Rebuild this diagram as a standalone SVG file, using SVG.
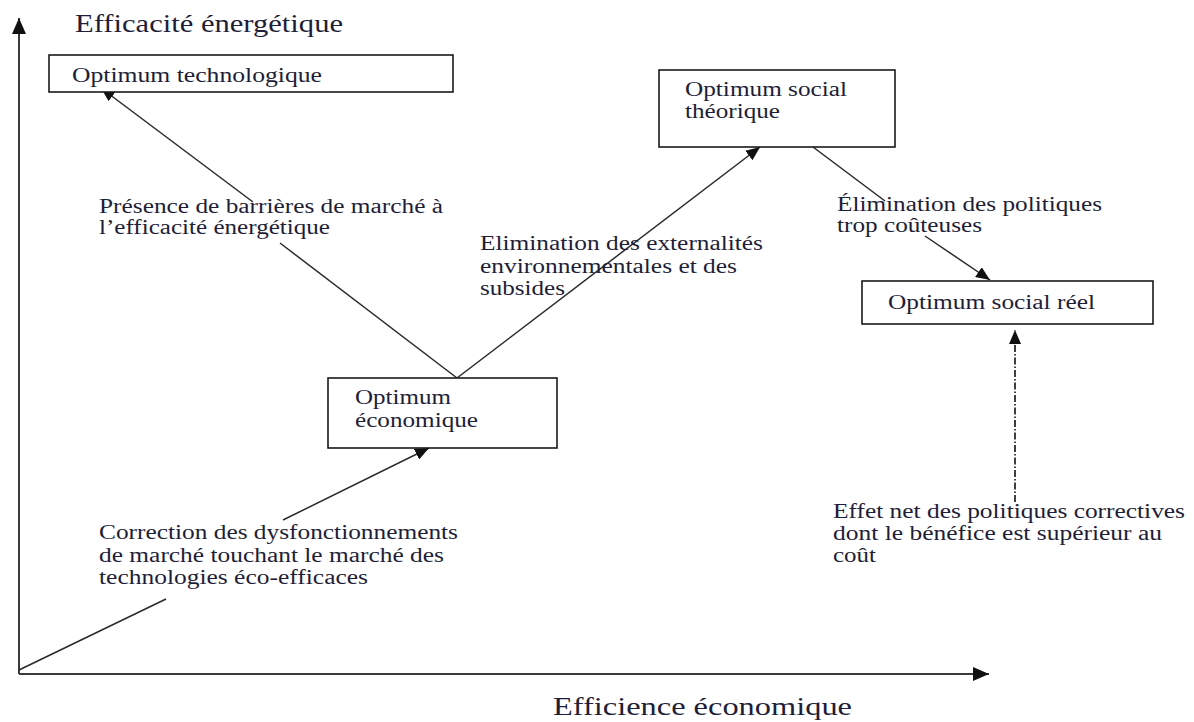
<svg xmlns="http://www.w3.org/2000/svg" width="1194" height="722" viewBox="0 0 1194 722">
  <style>
    .box { fill: #ffffff; stroke: #1a1a1a; stroke-width: 1.6; }
    .lbl { font-family: "Liberation Serif", "Times New Roman", serif; font-size: 20px; fill: #1e1e38; }
    .axt { font-family: "Liberation Serif", "Times New Roman", serif; font-size: 25px; fill: #1e1e38; }
    .link { stroke: #2a2a2a; stroke-width: 1.5; fill: none; }
    .axis { stroke: #3a3a3a; stroke-width: 2; fill: none; }
    .dashdot { stroke: #2a2a2a; stroke-width: 1.8; fill: none; stroke-dasharray: 7 2 1.5 2; }
  </style>
  <defs>
    <marker id="arrow" viewBox="0 0 14 12" refX="14" refY="6" markerWidth="14" markerHeight="12" markerUnits="userSpaceOnUse" orient="auto">
      <path d="M0,0 L14,6 L0,12 z" fill="#111111"/>
    </marker>
    <marker id="axisArrow" viewBox="0 0 16 14" refX="16" refY="7" markerWidth="16" markerHeight="14" markerUnits="userSpaceOnUse" orient="auto">
      <path d="M0,0 L16,7 L0,14 z" fill="#111111"/>
    </marker>
  </defs>

  <!-- axes -->
  <g id="axes">
    <line class="axis" x1="19" y1="674" x2="19" y2="18" marker-end="url(#axisArrow)"/>
    <line class="axis" x1="19" y1="674" x2="989" y2="674" marker-end="url(#axisArrow)"/>
    <text class="axt" x="75" y="32" textLength="268" lengthAdjust="spacingAndGlyphs">Efficacité énergétique</text>
    <text class="axt" x="553" y="715" textLength="299" lengthAdjust="spacingAndGlyphs">Efficience économique</text>
  </g>

  <!-- connectors -->
  <g id="connectors">
    <!-- origin to optimum économique -->
    <line class="link" x1="19" y1="670" x2="166" y2="599"/>
    <line class="link" x1="283" y1="520" x2="429" y2="448" marker-end="url(#arrow)"/>
    <!-- optimum économique to optimum technologique -->
    <line class="link" x1="457" y1="378" x2="280" y2="243"/>
    <line class="link" x1="253" y1="202" x2="101" y2="88" marker-end="url(#arrow)"/>
    <!-- optimum économique to optimum social théorique -->
    <line class="link" x1="457" y1="378" x2="760" y2="147" marker-end="url(#arrow)"/>
    <!-- optimum social théorique to optimum social réel -->
    <line class="link" x1="813" y1="147" x2="885" y2="201"/>
    <line class="link" x1="925" y1="236" x2="990" y2="280" marker-end="url(#arrow)"/>
    <!-- net effect of corrective policies -->
    <line class="dashdot" x1="1015" y1="502" x2="1015" y2="330" marker-end="url(#arrow)"/>
  </g>

  <!-- nodes -->
  <g id="opt-techno">
    <rect class="box" x="49" y="55" width="404" height="37"/>
    <text class="lbl" x="72" y="82" textLength="250" lengthAdjust="spacingAndGlyphs">Optimum technologique</text>
  </g>
  <g id="opt-social-theorique">
    <rect class="box" x="659" y="70" width="236" height="77"/>
    <text class="lbl" x="685" y="96" textLength="162" lengthAdjust="spacingAndGlyphs">Optimum social</text>
    <text class="lbl" x="685" y="118" textLength="95" lengthAdjust="spacingAndGlyphs">théorique</text>
  </g>
  <g id="opt-economique">
    <rect class="box" x="328" y="378" width="229" height="70"/>
    <text class="lbl" x="355" y="404" textLength="96" lengthAdjust="spacingAndGlyphs">Optimum</text>
    <text class="lbl" x="355" y="427" textLength="123" lengthAdjust="spacingAndGlyphs">économique</text>
  </g>
  <g id="opt-social-reel">
    <rect class="box" x="862" y="281" width="291" height="43"/>
    <text class="lbl" x="888" y="309" textLength="207" lengthAdjust="spacingAndGlyphs">Optimum social réel</text>
  </g>

  <!-- connector labels -->
  <g id="label-barrieres">
    <text class="lbl" x="99" y="213" textLength="344" lengthAdjust="spacingAndGlyphs">Présence de barrières de marché à</text>
    <text class="lbl" x="99" y="234" textLength="231" lengthAdjust="spacingAndGlyphs">l’efficacité énergétique</text>
  </g>
  <g id="label-externalites">
    <text class="lbl" x="480" y="250" textLength="283" lengthAdjust="spacingAndGlyphs">Elimination des externalités</text>
    <text class="lbl" x="480" y="273" textLength="257" lengthAdjust="spacingAndGlyphs">environnementales et des</text>
    <text class="lbl" x="480" y="295" textLength="85" lengthAdjust="spacingAndGlyphs">subsides</text>
  </g>
  <g id="label-politiques">
    <text class="lbl" x="837" y="211" textLength="265" lengthAdjust="spacingAndGlyphs">Élimination des politiques</text>
    <text class="lbl" x="837" y="232" textLength="145" lengthAdjust="spacingAndGlyphs">trop coûteuses</text>
  </g>
  <g id="label-correction">
    <text class="lbl" x="99" y="539" textLength="359" lengthAdjust="spacingAndGlyphs">Correction des dysfonctionnements</text>
    <text class="lbl" x="99" y="562" textLength="345" lengthAdjust="spacingAndGlyphs">de marché touchant le marché des</text>
    <text class="lbl" x="99" y="584" textLength="269" lengthAdjust="spacingAndGlyphs">technologies éco-efficaces</text>
  </g>
  <g id="label-effet-net">
    <text class="lbl" x="833" y="518" textLength="352" lengthAdjust="spacingAndGlyphs">Effet net des politiques correctives</text>
    <text class="lbl" x="833" y="540" textLength="329" lengthAdjust="spacingAndGlyphs">dont le bénéfice est supérieur au</text>
    <text class="lbl" x="833" y="562" textLength="43" lengthAdjust="spacingAndGlyphs">coût</text>
  </g>
</svg>
